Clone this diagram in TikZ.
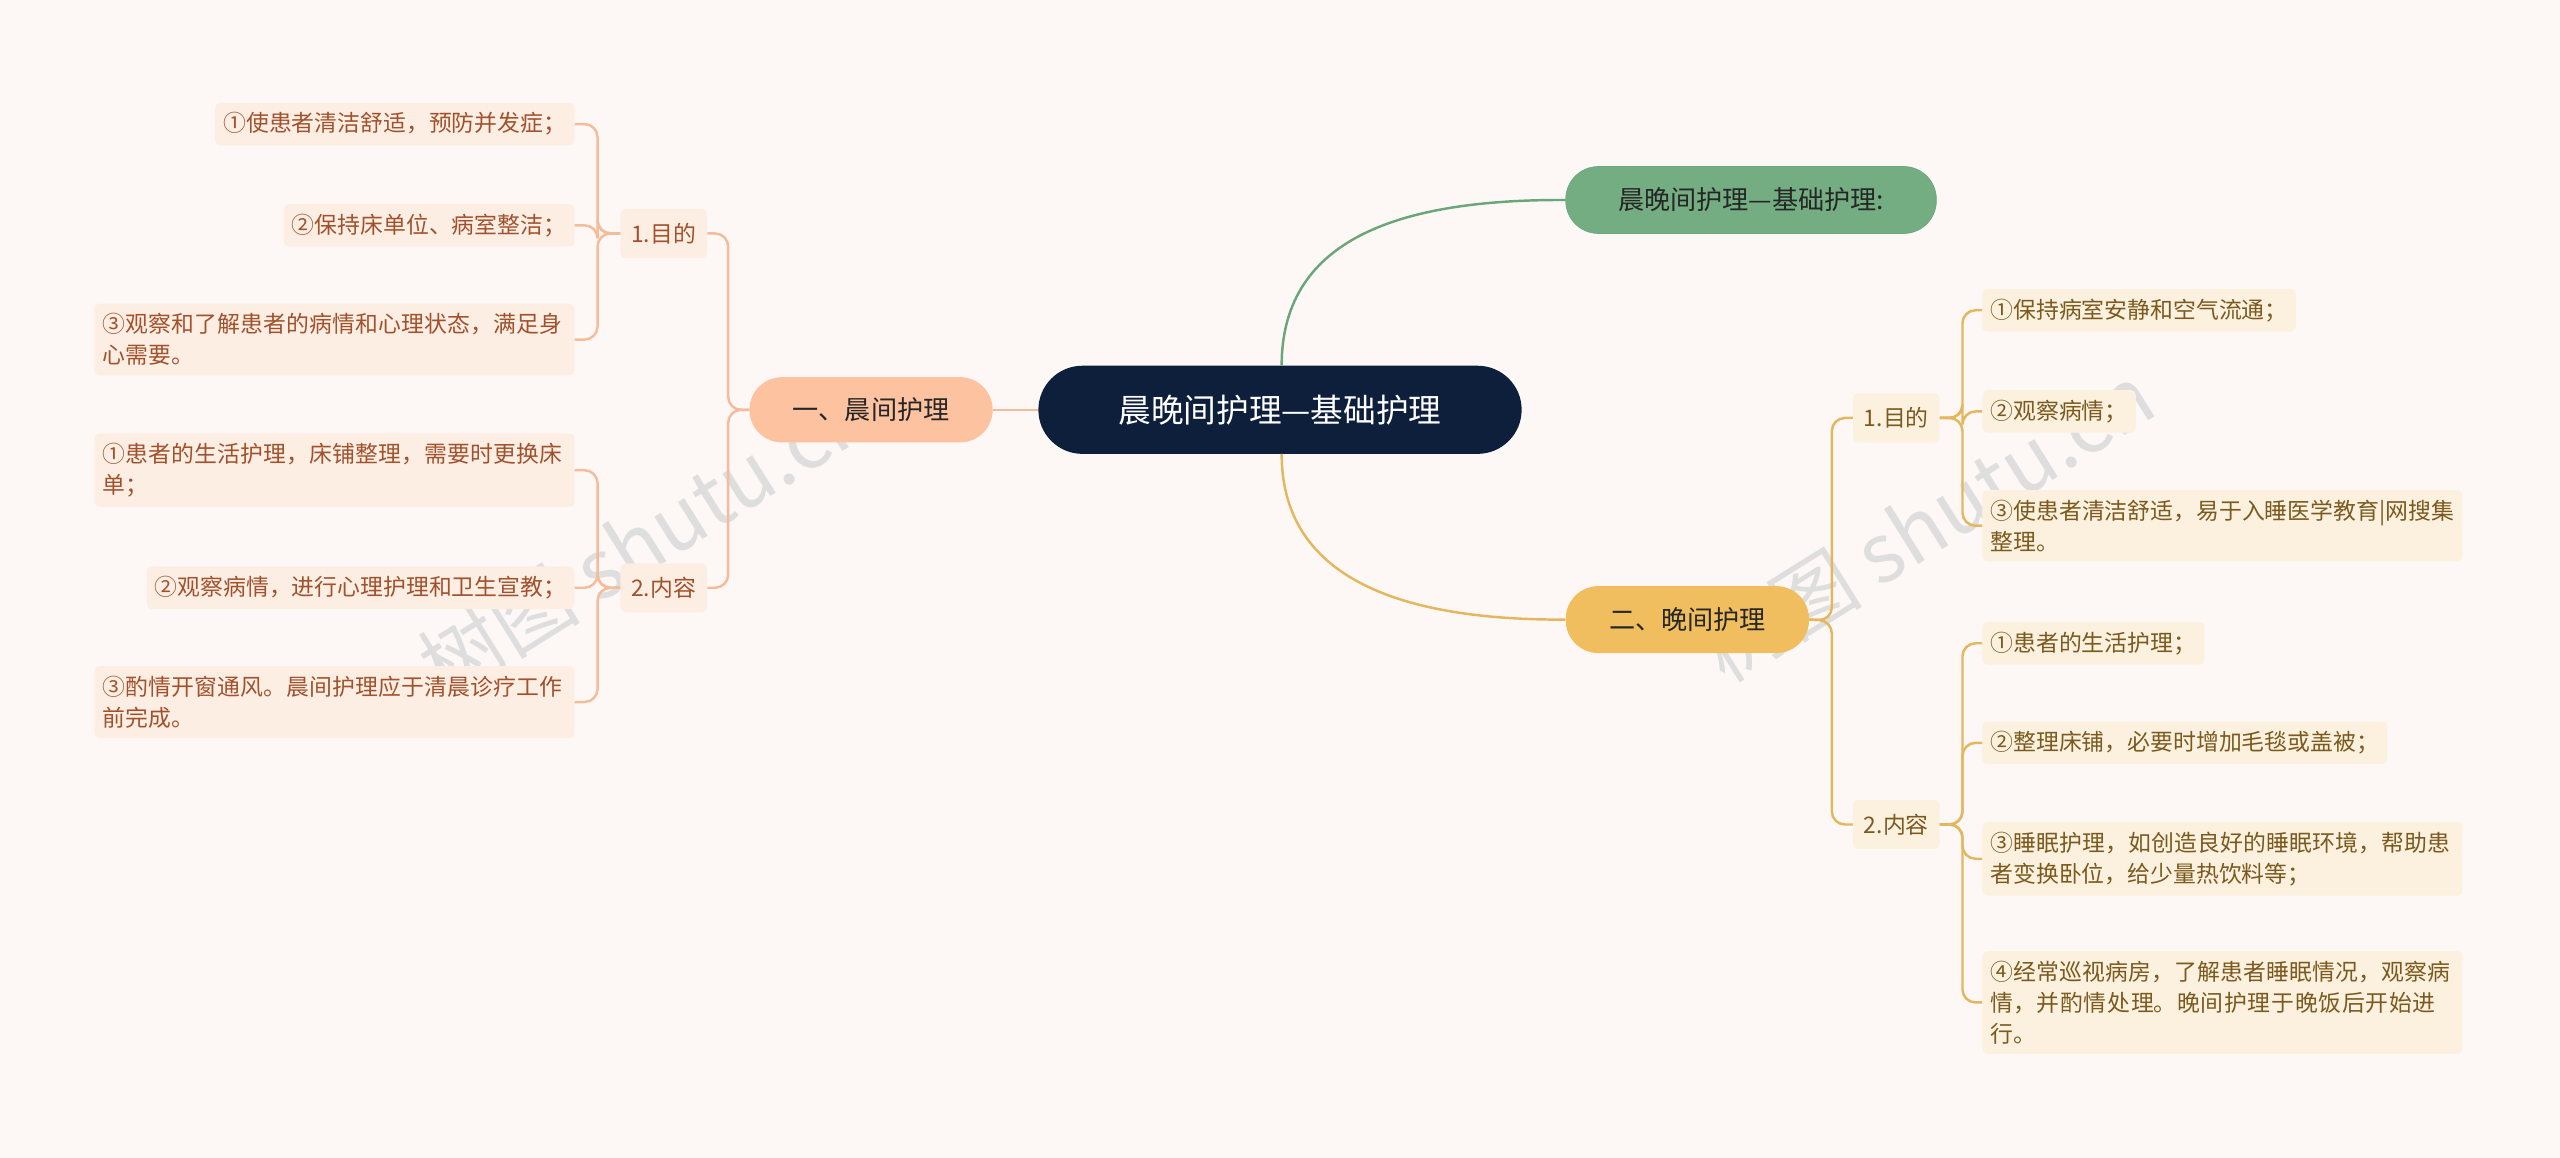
\documentclass[tikz,border=0pt]{standalone}
\usepackage{fontspec}
\setmainfont{Noto Sans CJK SC}
\XeTeXlinebreaklocale "zh"
\XeTeXlinebreakskip=0pt plus 1pt
\definecolor{bg}{HTML}{FDF8F6}
\definecolor{cnode}{HTML}{0D1F3A}
\definecolor{peach}{HTML}{FDC2A0}
\definecolor{peachl}{HTML}{FDEEE4}
\definecolor{peachline}{HTML}{F4BC9A}
\definecolor{peachtxt}{HTML}{A0522D}
\definecolor{gold}{HTML}{F0BE5E}
\definecolor{goldl}{HTML}{FCF1DF}
\definecolor{goldline}{HTML}{E3B75E}
\definecolor{goldtxt}{HTML}{7A5A1E}
\definecolor{grn}{HTML}{74AD82}
\definecolor{grnline}{HTML}{6BA67B}
\begin{document}
\begin{tikzpicture}[x=1pt,y=-1pt,
  every node/.style={font=\fontsize{14}{19}\selectfont, inner sep=0pt},
  lleaf/.style={fill=peachl, rounded corners=3pt, text=peachtxt, inner xsep=5pt, inner ysep=6pt, align=left},
  rleaf/.style={fill=goldl, rounded corners=3pt, text=goldtxt, inner xsep=5pt, inner ysep=6pt, align=left},
  lsub/.style={fill=peachl, rounded corners=3pt, text=peachtxt, minimum width=53pt, minimum height=30pt},
  rsub/.style={fill=goldl, rounded corners=3pt, text=goldtxt, minimum width=53pt, minimum height=30pt},
  lcon/.style={draw=peachline, line width=1.5pt, rounded corners=8pt},
  rcon/.style={draw=goldline, line width=1.5pt, rounded corners=8pt}]
\fill[bg] (0,0) rectangle (1568,709);
% watermark
\node[text=black!13, font=\fontsize{50}{60}\selectfont, rotate=32] (wm1) at (395,330) {树图 shutu.cn};
\node[text=black!13, font=\fontsize{50}{60}\selectfont, rotate=32] (wm2) at (1180,320) {树图 shutu.cn};
% main nodes
\node[fill=cnode, text=white, rounded corners=27pt, minimum width=296pt, minimum height=54pt, font=\fontsize{20}{24}\selectfont] (c) at (784,251) {晨晚间护理—基础护理};
\node[fill=peach, text=black!85, rounded corners=20pt, minimum width=149pt, minimum height=40pt, font=\fontsize{16}{20}\selectfont] (L) at (533.5,251) {一、晨间护理};
\node[fill=grn, draw=grnline, text=black!85, rounded corners=20pt, minimum width=227pt, minimum height=41pt, font=\fontsize{16}{20}\selectfont] (G) at (1072.5,122.5) {晨晚间护理—基础护理:};
\node[fill=gold, text=black!85, rounded corners=20pt, minimum width=149pt, minimum height=41pt, font=\fontsize{16}{20}\selectfont] (R) at (1033.5,379.5) {二、晚间护理};
\draw[peachline, line width=1.5pt] (c.west) -- (L.east);
\draw[grnline, line width=1.5pt] (785,224) .. controls (785,150) and (850,122) .. (G.west);
\draw[goldline, line width=1.5pt] (785,278) .. controls (785,350) and (850,380) .. (R.west);
% left subs
\node[lsub] (L1) at (406.5,143) {1.目的};
\node[lsub] (L2) at (406.5,360) {2.内容};
\draw[lcon] (L.west) -- (446,251) -- (446,143) -- (L1.east);
\draw[lcon] (L.west) -- (446,251) -- (446,360) -- (L2.east);
\node[lleaf, anchor=east] (l11) at (352,76) {①使患者清洁舒适，预防并发症；};
\node[lleaf, anchor=east] (l12) at (352,138) {②保持床单位、病室整洁；};
\node[lleaf, anchor=east, text width=284pt] (l13) at (352,208) {③观察和了解患者的病情和心理状态，满足身心需要。};
\node[lleaf, anchor=east, text width=284pt] (l21) at (352,288) {①患者的生活护理，床铺整理，需要时更换床单；};
\node[lleaf, anchor=east] (l22) at (352,360) {②观察病情，进行心理护理和卫生宣教；};
\node[lleaf, anchor=east, text width=284pt] (l23) at (352,430) {③酌情开窗通风。晨间护理应于清晨诊疗工作前完成。};
\foreach \n/\y in {l11/76,l12/138,l13/208} \draw[lcon] (L1.west) -- (366,143) -- (366,\y) -- (\n.east);
\foreach \n/\y in {l21/288,l22/360,l23/430} \draw[lcon] (L2.west) -- (366,360) -- (366,\y) -- (\n.east);
% right subs
\node[rsub] (R1) at (1161.5,256) {1.目的};
\node[rsub] (R2) at (1161.5,505) {2.内容};
\draw[rcon] (R.east) -- (1122,380) -- (1122,256) -- (R1.west);
\draw[rcon] (R.east) -- (1122,380) -- (1122,505) -- (R2.west);
\node[rleaf, anchor=west] (r11) at (1214,190) {①保持病室安静和空气流通；};
\node[rleaf, anchor=west] (r12) at (1214,252) {②观察病情；};
\node[rleaf, anchor=west, text width=284pt] (r13) at (1214,322) {③使患者清洁舒适，易于入睡医学教育|网搜集整理。};
\node[rleaf, anchor=west] (r21) at (1214,394) {①患者的生活护理；};
\node[rleaf, anchor=west] (r22) at (1214,455) {②整理床铺，必要时增加毛毯或盖被；};
\node[rleaf, anchor=west, text width=284pt] (r23) at (1214,526) {③睡眠护理，如创造良好的睡眠环境，帮助患者变换卧位，给少量热饮料等；};
\node[rleaf, anchor=west, text width=284pt] (r24) at (1214,614) {④经常巡视病房，了解患者睡眠情况，观察病情，并酌情处理。晚间护理于晚饭后开始进行。};
\foreach \n/\y in {r11/190,r12/252,r13/322} \draw[rcon] (R1.east) -- (1202,256) -- (1202,\y) -- (\n.west);
\foreach \n/\y in {r21/394,r22/455,r23/526,r24/614} \draw[rcon] (R2.east) -- (1202,505) -- (1202,\y) -- (\n.west);
\end{tikzpicture}
\end{document}
